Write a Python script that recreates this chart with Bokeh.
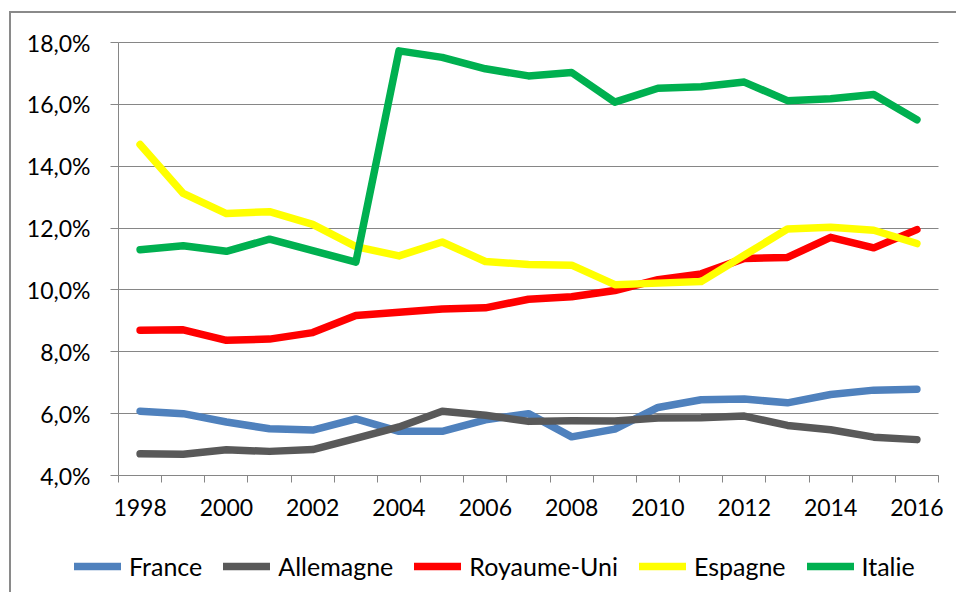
from bokeh.plotting import figure
from bokeh.models import FixedTicker, Legend, LegendItem, Range1d
from bokeh.embed import file_html
from bokeh.resources import INLINE

years = list(range(1998, 2017))
france = [6.08, 6.00, 5.73, 5.51, 5.47, 5.83, 5.43, 5.43, 5.80, 6.00, 5.25, 5.50, 6.20, 6.45, 6.47, 6.35, 6.62, 6.76, 6.79]
allemagne = [4.70, 4.69, 4.83, 4.78, 4.84, 5.20, 5.57, 6.08, 5.95, 5.75, 5.77, 5.76, 5.86, 5.87, 5.92, 5.62, 5.48, 5.24, 5.16]
royaume_uni = [8.70, 8.71, 8.37, 8.41, 8.62, 9.17, 9.28, 9.38, 9.42, 9.70, 9.78, 9.98, 10.33, 10.52, 11.02, 11.05, 11.70, 11.36, 11.95]
espagne = [14.70, 13.12, 12.47, 12.53, 12.12, 11.40, 11.10, 11.55, 10.92, 10.82, 10.80, 10.17, 10.22, 10.27, 11.12, 11.97, 12.03, 11.93, 11.50]
italie = [11.30, 11.43, 11.25, 11.64, 11.27, 10.90, 17.73, 17.52, 17.15, 16.92, 17.03, 16.07, 16.52, 16.57, 16.72, 16.12, 16.18, 16.32, 15.50]

series_names = ["France", "Allemagne", "Royaume-Uni", "Espagne", "Italie"]
series_values = [france, allemagne, royaume_uni, espagne, italie]
series_colors = ["#4F81BD", "#595959", "#FF0000", "#FFFF00", "#00B050"]

y_tick_values = [4, 6, 8, 10, 12, 14, 16, 18]
y_tick_labels = ["4,0%", "6,0%", "8,0%", "10,0%", "12,0%", "14,0%", "16,0%", "18,0%"]
x_label_years = list(range(1998, 2017, 2))

FONT = "Lato"
GRAY = "#868686"

# layout (page pixels): plotting area 118..938 x 42..475, canvas starts at (11, 13)
CANVAS_X, CANVAS_Y = 11, 13
AREA_L, AREA_R, AREA_T, AREA_B = 118, 938, 42, 475
FRAME_R, FRAME_B = 956, 592
x_lo, x_hi = years[0] - 0.5, years[-1] + 0.5
y_lo, y_hi = y_tick_values[0], y_tick_values[-1]
ppx = (AREA_R - AREA_L) / (x_hi - x_lo)
ppy = (AREA_B - AREA_T) / (y_hi - y_lo)
x_start = x_lo - (AREA_L - CANVAS_X) / ppx
x_end = x_lo + (FRAME_R - AREA_L) / ppx
y_start = y_hi - (FRAME_B - AREA_T) / ppy
y_end = y_hi + (AREA_T - CANVAS_Y) / ppy

p = figure(output_backend="svg", toolbar_location=None,
           frame_width=FRAME_R - CANVAS_X, frame_height=FRAME_B - CANVAS_Y,
           min_border_left=0, min_border_top=0,
           min_border_right=0, min_border_bottom=0,
           x_range=Range1d(x_start, x_end), y_range=Range1d(y_start, y_end))
p.styles = {"margin-left": "9px", "margin-top": "11px", "vertical-align": "top",
            "border-left": "2px solid #8a8a8a", "border-top": "2px solid #8a8a8a"}
p.outline_line_color = None
p.background_fill_color = "white"
p.border_fill_color = "white"

# x axis
xa = p.xaxis[0]
xa.fixed_location = y_lo
xa.bounds = (x_lo, x_hi)
xa.ticker = FixedTicker(ticks=x_label_years,
                        minor_ticks=[y - 0.5 for y in years] + [years[-1] + 0.5])
xa.major_tick_line_color = None
xa.major_tick_out = 0
xa.major_tick_in = 0
xa.minor_tick_line_color = GRAY
xa.minor_tick_out = 7
xa.minor_tick_in = 0
xa.axis_line_color = GRAY
xa.major_label_standoff = 16
xa.major_label_text_font = FONT
xa.major_label_text_font_size = "23px"
xa.major_label_text_color = "#000000"

# y axis
ya = p.yaxis[0]
ya.fixed_location = x_lo
ya.bounds = (y_lo, y_hi)
ya.ticker = FixedTicker(ticks=y_tick_values)
ya.major_label_overrides = {v: l for v, l in zip(y_tick_values, y_tick_labels)}
ya.major_tick_line_color = GRAY
ya.major_tick_out = 8
ya.major_tick_in = 0
ya.minor_tick_line_color = None
ya.axis_line_color = GRAY
ya.major_label_standoff = 20
ya.major_label_text_font = FONT
ya.major_label_text_font_size = "23px"
ya.major_label_text_color = "#000000"

p.xgrid.grid_line_color = None
p.ygrid.grid_line_color = GRAY
p.ygrid.ticker = FixedTicker(ticks=y_tick_values)
p.ygrid.bounds = (y_lo, y_hi)
p.ygrid.cross_bounds = (x_lo, x_hi)

items = []
for name, vals, col in zip(series_names, series_values, series_colors):
    r = p.line(years, vals, line_color=col, line_width=7.5,
               line_join="round", line_cap="round")
    items.append(LegendItem(label=name, renderers=[r]))

legend = Legend(items=items, orientation="horizontal", location=(63, 11),
                padding=0, margin=0, spacing=21, label_standoff=8,
                glyph_width=47, glyph_height=20,
                label_text_font=FONT, label_text_font_size="25px",
                label_text_color="#000000",
                background_fill_alpha=0, border_line_color=None)
p.add_layout(legend)

open("out.html", "w").write(file_html(p, INLINE))
